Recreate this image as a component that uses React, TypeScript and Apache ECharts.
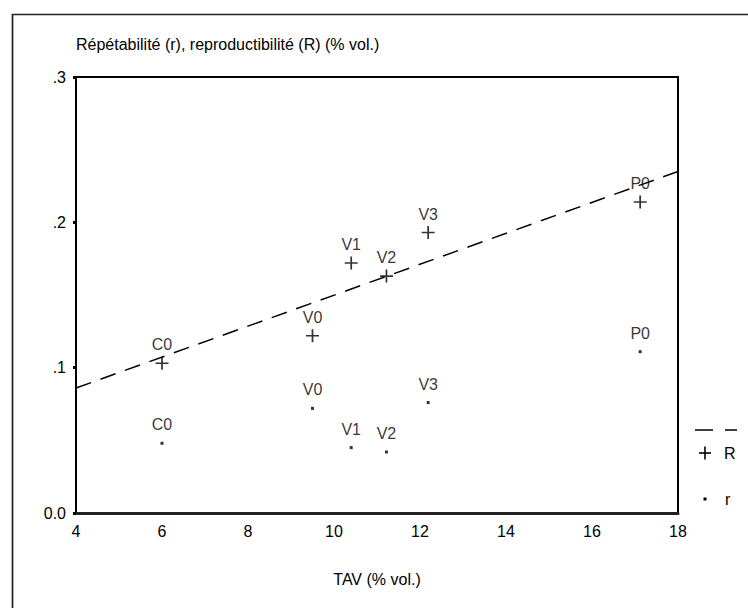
import React, { useEffect, useRef } from "react";
import * as echarts from "echarts";

const labels = ["C0", "V0", "V1", "V2", "V3", "P0"];
const tav = [6.0, 9.5, 10.4, 11.22, 12.19, 17.12];
const reproR = [0.103, 0.122, 0.172, 0.163, 0.193, 0.214];
const repetR = [0.048, 0.072, 0.045, 0.042, 0.076, 0.111];
const fitX = [4, 18];
const fitY = [0.086, 0.235];
const xTicks = [4, 6, 8, 10, 12, 14, 16, 18];
const yTickLabels = ["0.0", ".1", ".2", ".3"];

const FONT = "'Liberation Sans', Arial, sans-serif";
const PLUS =
  "path://M0,5.7 L12,5.7 L12,7.3 L0,7.3 Z M5.2,0 L6.8,0 L6.8,13 L5.2,13 Z";

export default function App() {
  const ref = useRef<HTMLDivElement>(null);
  useEffect(() => {
    if (!ref.current) return;
    const chart = echarts.init(ref.current, null, { renderer: "svg" });
    const pts = (ys: number[]) =>
      tav.map((x, i) => ({ value: [x, ys[i]], name: labels[i] }));
    chart.setOption({
      animation: false,
      backgroundColor: "#fff",
      textStyle: { fontFamily: FONT },
      grid: {
        left: 76,
        top: 77,
        right: 70,
        bottom: 95,
        show: true,
        borderColor: "#000",
        borderWidth: 2,
      },
      xAxis: {
        type: "value",
        min: xTicks[0],
        max: xTicks[xTicks.length - 1],
        interval: 2,
        name: "TAV (% vol.)",
        nameLocation: "middle",
        nameGap: 58,
        nameTextStyle: { fontSize: 16, color: "#000", fontFamily: FONT },
        axisLine: { lineStyle: { color: "#222", width: 3 } },
        axisTick: { show: false },
        splitLine: { show: false },
        axisLabel: { fontSize: 16, color: "#000", margin: 10, fontFamily: FONT },
      },
      yAxis: {
        type: "value",
        min: 0,
        max: 0.3,
        interval: 0.1,
        name: "Répétabilité (r), reproductibilité (R) (% vol.)",
        nameLocation: "end",
        nameGap: 33,
        nameTextStyle: {
          fontSize: 16,
          color: "#000",
          align: "left",
          verticalAlign: "middle",
          fontFamily: FONT,
        },
        axisLine: { lineStyle: { color: "#000", width: 2 } },
        axisTick: { show: true, length: 3, lineStyle: { color: "#000", width: 3 } },
        splitLine: { show: false },
        axisLabel: {
          fontSize: 16,
          color: "#000",
          margin: 10,
          fontFamily: FONT,
          formatter: (v: number) => yTickLabels[Math.round(v * 10)],
        },
      },
      series: [
        {
          name: "R fit",
          type: "line",
          data: fitX.map((x, i) => [x, fitY[i]]),
          showSymbol: false,
          lineStyle: { color: "#000", width: 1.5, type: [16, 10] },
          silent: true,
          z: 3,
        },
        {
          name: "R",
          type: "scatter",
          data: pts(reproR),
          symbol: PLUS,
          symbolSize: 13,
          itemStyle: { color: "#000" },
          label: {
            show: true,
            position: "top",
            distance: 4,
            formatter: "{b}",
            fontSize: 16,
            color: "#000",
            fontFamily: FONT,
          },
          z: 4,
        },
        {
          name: "r",
          type: "scatter",
          data: pts(repetR),
          symbol: "rect",
          symbolSize: 3,
          itemStyle: { color: "#000" },
          label: {
            show: true,
            position: "top",
            distance: 9,
            formatter: "{b}",
            fontSize: 16,
            color: "#000",
            fontFamily: FONT,
          },
          z: 4,
        },
      ],
      graphic: [
        {
          type: "rect",
          left: 10,
          top: 12,
          shape: { x: 0, y: 0, width: 800, height: 700 },
          style: { fill: "none", stroke: "#222", lineWidth: 1.7 },
          silent: true,
        },
        {
          type: "line",
          shape: { x1: 695, y1: 430, x2: 737, y2: 430 },
          style: { stroke: "#000", lineWidth: 1.5, lineDash: [18, 12] },
        },
        {
          type: "group",
          children: [
            {
              type: "rect",
              shape: { x: 699, y: 452.2, width: 12, height: 1.6 },
              style: { fill: "#000" },
            },
            {
              type: "rect",
              shape: { x: 704.2, y: 446.5, width: 1.6, height: 13 },
              style: { fill: "#000" },
            },
          ],
        },
        {
          type: "text",
          x: 724,
          y: 453,
          style: {
            text: "R",
            fontSize: 16,
            fontFamily: FONT,
            fill: "#000",
            verticalAlign: "middle",
          },
        },
        {
          type: "rect",
          shape: { x: 703.5, y: 497.5, width: 3, height: 3 },
          style: { fill: "#000" },
        },
        {
          type: "text",
          x: 725,
          y: 499,
          style: {
            text: "r",
            fontSize: 16,
            fontFamily: FONT,
            fill: "#000",
            verticalAlign: "middle",
          },
        },
      ],
    });
    return () => chart.dispose();
  }, []);
  return (
    <div
      ref={ref}
      style={{ position: "fixed", left: 0, top: 0, width: 748, height: 608 }}
    />
  );
}
